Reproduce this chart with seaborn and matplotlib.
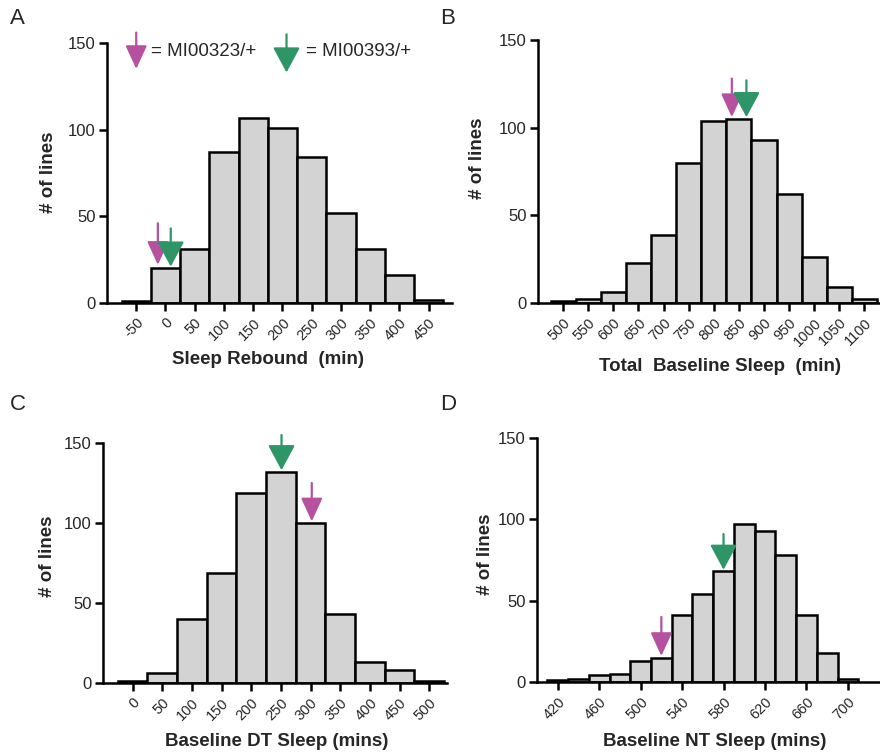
import numpy as np
import pandas as pd
import matplotlib
matplotlib.use("Agg")
import matplotlib.pyplot as plt
from matplotlib.transforms import ScaledTranslation
import seaborn as sns

# ---- histogram data: bin centres and number of lines per bin ----
rebound_bins = [-50, 0, 50, 100, 150, 200, 250, 300, 350, 400, 450]
rebound_counts = [1, 20, 31, 87, 107, 101, 84, 52, 31, 16, 2]

total_bins = [500, 550, 600, 650, 700, 750, 800, 850, 900, 950, 1000, 1050, 1100]
total_counts = [1, 2, 6, 23, 39, 80, 104, 105, 93, 62, 26, 9, 2]

dt_bins = [0, 50, 100, 150, 200, 250, 300, 350, 400, 450, 500]
dt_counts = [1, 6, 40, 69, 119, 132, 100, 43, 13, 8, 1]

nt_bins = [420, 440, 460, 480, 500, 520, 540, 560, 580, 600, 620, 640, 660, 680, 700]
nt_counts = [1, 2, 4, 5, 13, 15, 41, 54, 68, 97, 93, 78, 41, 18, 2]

# ---- values of the two highlighted genotypes (x) and the bar they sit on (y) ----
mi00323_x = [-13, 836, 302, 520]
mi00323_y = [21, 105, 100, 15]
mi00393_x = [9, 865, 251, 580]
mi00393_y = [20, 105, 132, 68]

tick_sets = [
    list(range(-50, 451, 50)),
    list(range(500, 1101, 50)),
    list(range(0, 501, 50)),
    list(range(420, 701, 40)),
]
x_labels = [
    "Sleep Rebound  (min)",
    "Total  Baseline Sleep  (min)",
    "Baseline DT Sleep (mins)",
    "Baseline NT Sleep (mins)",
]
panel_letters = ["A", "B", "C", "D"]

MAGENTA = "#b5519e"
GREEN = "#2e9566"

sns.set_theme(style="ticks")
plt.rcParams["font.family"] = ["Liberation Sans", "DejaVu Sans"]

fig = plt.figure(figsize=(8.8, 7.55), dpi=100)
W, H = 880.0, 755.0


def add_axes_px(left, top, right, bottom):
    return fig.add_axes([left / W, 1 - bottom / H, (right - left) / W, (bottom - top) / H])


axes = [
    add_axes_px(107, 43, 452, 303),
    add_axes_px(538, 40, 880, 303),
    add_axes_px(103, 443, 447, 683),
    add_axes_px(537, 438, 880, 682),
]
xlims = [(-100, 490), (450, 1131), (-50, 530), (400, 731)]
letter_pos = [(10, 18), (440, 18), (10, 404), (440, 404)]
# label centres in pixels (x label: x, y ; y label: x, y)
xlabel_pos = [(268, 360), (720, 366), (277, 742), (715, 741)]
ylabel_pos = [(48, 172), (477, 158), (47, 556), (485, 554)]

datasets = [
    (rebound_bins, rebound_counts),
    (total_bins, total_counts),
    (dt_bins, dt_counts),
    (nt_bins, nt_counts),
]

# nudge rotated tick labels slightly right so their ends sit under the ticks
label_shift = ScaledTranslation(3 / 100, -1 / 100, fig.dpi_scale_trans)


def draw_arrow(ax, x, tip, length, color, hl, hw):
    ax.annotate(
        "", xy=(x, tip), xytext=(x, tip + length),
        arrowprops=dict(arrowstyle=f"-|>,head_length={hl},head_width={hw}",
                        color=color, lw=1.6, shrinkA=0, shrinkB=0),
        annotation_clip=False,
    )


for i, ax in enumerate(axes):
    centres, counts = datasets[i]
    step = centres[1] - centres[0]
    edges = [c - step / 2 for c in centres] + [centres[-1] + step / 2]
    df = pd.DataFrame({"value": centres, "n": counts})
    sns.histplot(data=df, x="value", weights="n", bins=edges, ax=ax,
                 color="#d3d3d3", edgecolor="black", linewidth=1.8, alpha=1.0)

    ax.set_xlim(*xlims[i])
    ax.set_ylim(0, 150)
    ax.set_yticks([0, 50, 100, 150])
    ax.set_xticks(tick_sets[i])
    ax.set_xticklabels([str(t) for t in tick_sets[i]], rotation=45, ha="right",
                       va="top", rotation_mode="anchor", fontsize=10.5)
    for lbl in ax.get_xticklabels():
        lbl.set_transform(lbl.get_transform() + label_shift)
    ax.tick_params(axis="y", labelsize=12, width=1.8, length=6, pad=2, color="black")
    ax.tick_params(axis="x", width=1.8, length=6, pad=3, color="black")
    for side in ["top", "right"]:
        ax.spines[side].set_visible(False)
    for side in ["left", "bottom"]:
        ax.spines[side].set_linewidth(1.8)
        ax.spines[side].set_color("black")

    ax.set_xlabel(x_labels[i], fontsize=13.5, fontweight="bold", va="center")
    ax.xaxis.set_label_coords(xlabel_pos[i][0] / W, 1 - xlabel_pos[i][1] / H,
                              transform=fig.transFigure)
    ax.set_ylabel("# of lines", fontsize=13.5, fontweight="bold", va="center")
    ax.yaxis.set_label_coords(ylabel_pos[i][0] / W, 1 - ylabel_pos[i][1] / H,
                              transform=fig.transFigure)

    # genotype markers: arrow tips rest just above the bar holding each value
    draw_arrow(ax, mi00323_x[i], mi00323_y[i] + 1, 24 if i != 1 else 22,
               MAGENTA, 1.2, 0.55)
    draw_arrow(ax, mi00393_x[i], mi00393_y[i] + 1, 22 if i != 1 else 21,
               GREEN, 1.3, 0.7)

    lx, ly = letter_pos[i]
    fig.text(lx / W, 1 - ly / H, panel_letters[i], fontsize=16, ha="left", va="center")

# legend built from the same arrow glyphs
axA = axes[0]
draw_arrow(axA, -50, 135, 21, MAGENTA, 1.2, 0.55)
axA.text(-24, 145, "= MI00323/+", fontsize=13.5, va="center", ha="left")
draw_arrow(axA, 207, 133, 22, GREEN, 1.3, 0.7)
axA.text(241, 145, "= MI00393/+", fontsize=13.5, va="center", ha="left")

fig.savefig("out.png", dpi=100)
